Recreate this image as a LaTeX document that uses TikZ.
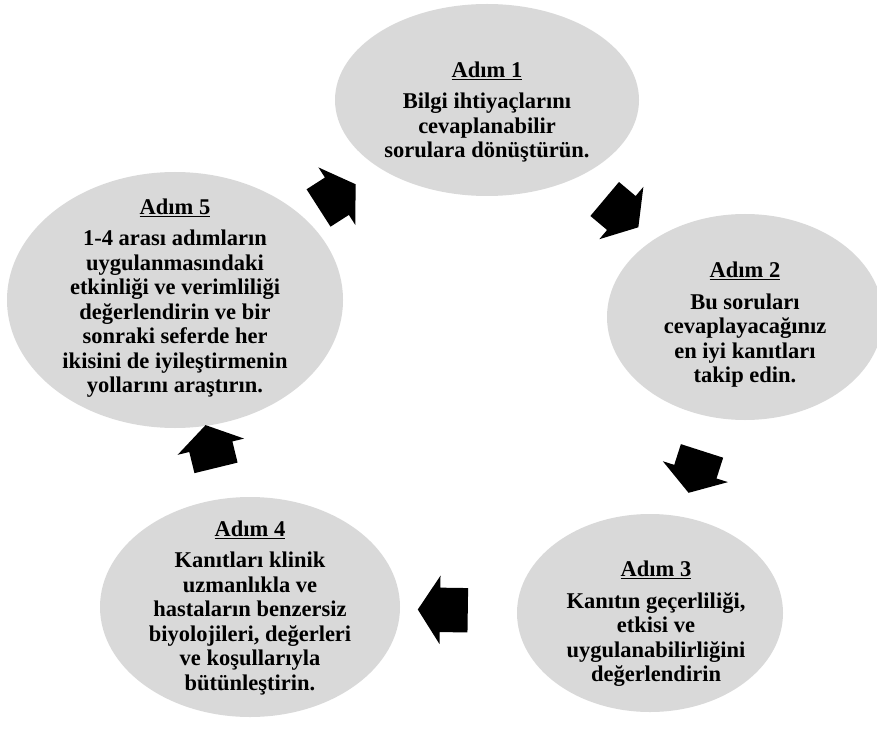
\documentclass[tikz,border=0pt]{standalone}
\usepackage{fontspec}
\setmainfont{Liberation Serif}
\usetikzlibrary{shapes.geometric,shapes.arrows}

\definecolor{stepgray}{HTML}{D9D9D9}
\newcommand{\steptitle}[1]{\underline{Adım #1}\\[7pt]}

\tikzset{
  stepshape/.style={ellipse, fill=stepgray, inner sep=0pt},
  steptext/.style={align=center, inner sep=0pt,
                   font=\fontsize{22.5}{24.5}\selectfont\bfseries},
  cycarrow/.style={single arrow, fill=black, inner xsep=0pt, inner ysep=22pt,
                   minimum width=68pt, minimum height=44pt,
                   single arrow head extend=12pt, single arrow tip angle=114,
                   sloped, allow upside down, midway}
}

\begin{document}
\begin{tikzpicture}[x=1pt, y=1pt]
  \useasboundingbox (0,0) rectangle (877,-735);

  % the five steps
  \node[stepshape, minimum width=304pt, minimum height=192pt] (s1) at (487,-100) {};
  \node[stepshape, minimum width=276pt, minimum height=206pt] (s2) at (745,-317) {};
  \node[stepshape, minimum width=266pt, minimum height=198pt] (s3) at (650,-613) {};
  \node[stepshape, minimum width=300pt, minimum height=220pt] (s4) at (250,-607) {};
  \node[stepshape, minimum width=336pt, minimum height=256pt] (s5) at (175,-300) {};

  \node[steptext] (t1) at (487,-112) {\steptitle{1}Bilgi ihtiyaçlarını\\
    cevaplanabilir\\sorulara dönüştürün.};
  \node[steptext] (t2) at (745,-325) {\steptitle{2}Bu soruları\\
    cevaplayacağınız\\en iyi kanıtları\\takip edin.};
  \node[steptext] (t3) at (656,-624) {\steptitle{3}Kanıtın geçerliliği,\\
    etkisi ve\\uygulanabilirliğini\\değerlendirin};
  \node[steptext] (t4) at (250,-608) {\steptitle{4}Kanıtları klinik\\
    uzmanlıkla ve\\hastaların benzersiz\\biyolojileri, değerleri\\
    ve koşullarıyla\\bütünleştirin.};
  \node[steptext] (t5) at (175,-298) {\steptitle{5}1-4 arası adımların\\
    uygulanmasındaki\\etkinliği ve verimliliği\\değerlendirin ve bir\\
    sonraki seferde her\\ikisini de iyileştirmenin\\yollarını araştırın.};

  % block arrows between the steps
  \path (s1.center) -- (s2.center) node[cycarrow] (a12) {};
  \path (s2.center) -- (s3.center) node[cycarrow] (a23) {};
  \path (s3.center) -- (s4.center) node[cycarrow, minimum height=50pt] (a34) {};
  \path (s4.center) -- (s5.center) node[cycarrow] (a45) {};
  \path (s5.center) -- (s1.center) node[cycarrow] (a51) {};
\end{tikzpicture}
\end{document}
